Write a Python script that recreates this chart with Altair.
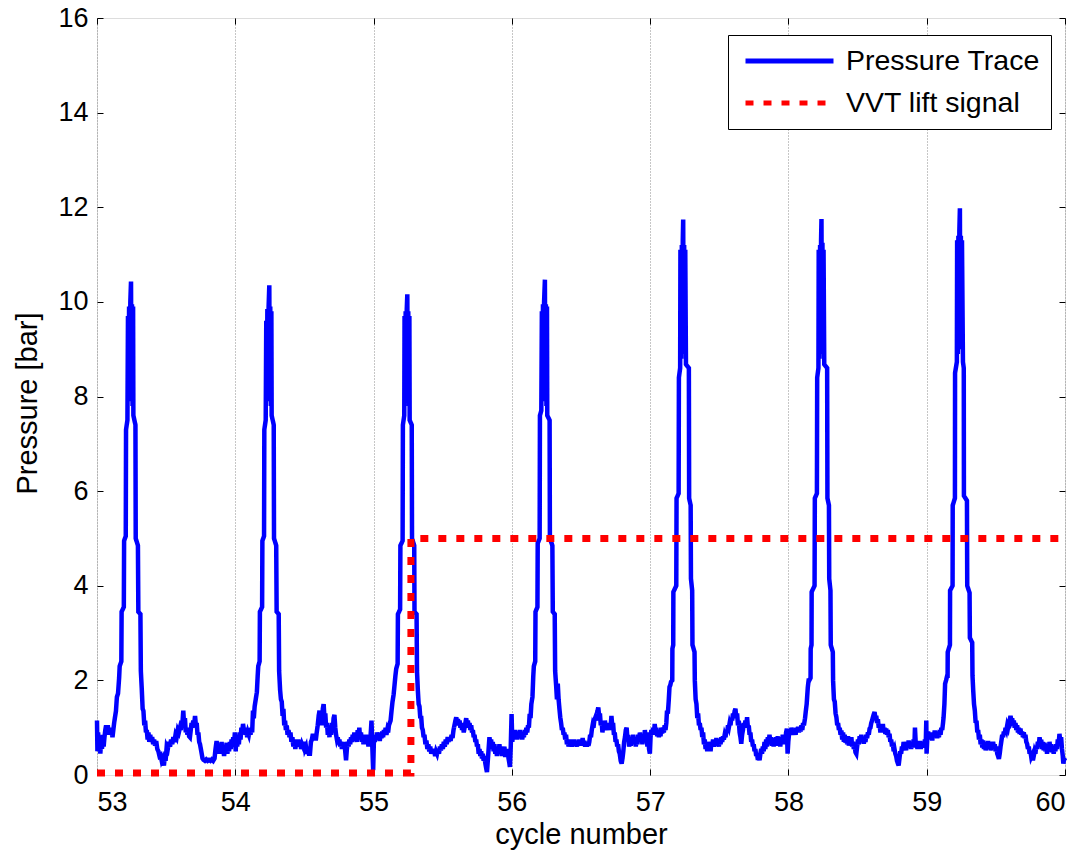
import altair as alt
import pandas as pd

# ---------------- data ----------------
x_ticks = [53, 54, 55, 56, 57, 58, 59, 60]
y_ticks = [0, 2, 4, 6, 8, 10, 12, 14, 16]
series_names = ["Pressure Trace", "VVT lift signal"]

cycle_53 = [
    (53.000, 1.15), (53.003, 0.50), (53.008, 0.90), (53.013, 0.55), (53.018, 0.80), (53.024, 0.45),
    (53.030, 0.75), (53.036, 0.55), (53.042, 0.85), (53.048, 0.60), (53.054, 0.80), (53.060, 0.95),
    (53.066, 1.05), (53.072, 0.90), (53.078, 1.05), (53.085, 0.85), (53.092, 1.00), (53.098, 0.85),
    (53.105, 0.95), (53.112, 0.80), (53.118, 0.95), (53.124, 1.10), (53.130, 1.22), (53.137, 1.35),
    (53.144, 1.65), (53.152, 1.72), (53.160, 2.05),
    (53.164, 2.30), (53.176, 2.40), (53.178, 3.45), (53.194, 3.55), (53.196, 4.95), (53.208, 5.05),
    (53.210, 7.30), (53.220, 7.50), (53.224, 9.70), (53.228, 7.90), (53.232, 9.90), (53.237, 8.00),
    (53.241, 10.00), (53.246, 10.43), (53.249, 8.10), (53.253, 9.95), (53.257, 7.80), (53.261, 9.90),
    (53.263, 7.60), (53.278, 7.40), (53.280, 5.00), (53.296, 4.85), (53.299, 3.45), (53.314, 3.40),
    (53.317, 2.20), (53.324, 1.80), (53.330, 1.40),
    (53.336, 1.35), (53.342, 1.05), (53.348, 1.15), (53.354, 0.90), (53.360, 0.95), (53.366, 0.75),
    (53.372, 0.90), (53.378, 0.70), (53.385, 0.85), (53.392, 0.70), (53.399, 0.80), (53.406, 0.65),
    (53.413, 0.75), (53.420, 0.62), (53.428, 0.72), (53.436, 0.55), (53.444, 0.50), (53.452, 0.40),
    (53.460, 0.42), (53.468, 0.30), (53.476, 0.35), (53.484, 0.20), (53.490, 0.40), (53.496, 0.30),
    (53.504, 0.60), (53.512, 0.55), (53.520, 0.70), (53.528, 0.60), (53.536, 0.75), (53.544, 0.65),
    (53.552, 0.80), (53.560, 0.70), (53.568, 0.85), (53.576, 0.80), (53.584, 0.95), (53.592, 0.90),
    (53.600, 1.00), (53.606, 0.95), (53.612, 1.15), (53.618, 1.10), (53.624, 1.36), (53.630, 1.05),
    (53.636, 1.20), (53.642, 0.90), (53.648, 1.00), (53.654, 0.85), (53.660, 1.00), (53.666, 0.82),
    (53.672, 0.80), (53.678, 0.95), (53.684, 1.10), (53.690, 1.00), (53.696, 1.15), (53.702, 1.05),
    (53.709, 1.25), (53.715, 1.05), (53.721, 1.10), (53.727, 0.85), (53.733, 0.90), (53.739, 0.70),
    (53.745, 0.65), (53.751, 0.55), (53.757, 0.45), (53.763, 0.35), (53.770, 0.32), (53.780, 0.30),
    (53.790, 0.33), (53.800, 0.30), (53.810, 0.32), (53.820, 0.30), (53.830, 0.33), (53.840, 0.30),
    (53.850, 0.35), (53.857, 0.55), (53.865, 0.72), (53.871, 0.55), (53.877, 0.65), (53.883, 0.45),
    (53.889, 0.62), (53.895, 0.50), (53.901, 0.70), (53.907, 0.45), (53.913, 0.55), (53.919, 0.40),
    (53.925, 0.60), (53.931, 0.50), (53.937, 0.68), (53.943, 0.45), (53.949, 0.62), (53.955, 0.50),
    (53.961, 0.70), (53.967, 0.55), (53.973, 0.75), (53.979, 0.60), (53.985, 0.80), (53.991, 0.65),
    (53.997, 0.90),
]

cycle_54 = [
    (54.003, 0.50), (54.008, 0.85), (54.014, 0.60), (54.020, 0.80), (54.026, 0.65), (54.032, 0.90),
    (54.038, 0.75), (54.044, 1.00), (54.050, 0.90), (54.056, 1.08), (54.062, 0.95), (54.068, 1.00),
    (54.074, 0.85), (54.080, 0.95), (54.086, 0.80), (54.092, 0.90), (54.098, 0.85), (54.104, 0.95),
    (54.110, 0.85), (54.116, 1.00), (54.122, 0.90), (54.128, 1.36), (54.134, 1.20), (54.140, 1.45),
    (54.148, 1.60), (54.156, 1.75), (54.162, 2.10),
    (54.166, 2.30), (54.176, 2.40), (54.178, 3.45), (54.194, 3.55), (54.196, 4.95), (54.208, 5.05),
    (54.210, 7.30), (54.220, 7.50), (54.224, 9.60), (54.228, 7.90), (54.232, 9.85), (54.237, 8.00),
    (54.241, 9.90), (54.246, 10.35), (54.249, 8.10), (54.253, 9.90), (54.257, 7.80), (54.261, 9.80),
    (54.263, 7.60), (54.278, 7.40), (54.280, 5.00), (54.296, 4.85), (54.299, 3.45), (54.314, 3.40),
    (54.317, 2.20), (54.324, 1.80), (54.330, 1.60),
    (54.336, 1.55), (54.342, 1.25), (54.348, 1.40), (54.354, 1.05), (54.360, 1.15), (54.366, 0.95),
    (54.372, 1.05), (54.378, 0.85), (54.385, 0.95), (54.392, 0.80), (54.399, 0.90), (54.406, 0.70),
    (54.413, 0.80), (54.420, 0.60), (54.427, 0.75), (54.434, 0.55), (54.441, 0.70), (54.448, 0.60),
    (54.455, 0.75), (54.462, 0.60), (54.469, 0.70), (54.476, 0.55), (54.483, 0.65), (54.490, 0.60),
    (54.497, 0.70), (54.504, 0.55), (54.511, 0.60), (54.518, 0.45), (54.525, 0.55), (54.532, 0.45),
    (54.540, 0.45), (54.547, 0.70), (54.554, 0.75), (54.561, 0.87), (54.568, 0.75), (54.575, 0.85),
    (54.582, 0.73), (54.589, 0.90), (54.596, 1.05), (54.603, 1.25), (54.609, 1.36), (54.615, 1.15),
    (54.621, 1.30), (54.627, 1.05), (54.633, 1.40), (54.639, 1.50), (54.645, 1.20), (54.651, 1.30),
    (54.657, 1.00), (54.663, 1.10), (54.669, 0.85), (54.675, 0.95), (54.681, 0.80), (54.687, 1.05),
    (54.693, 0.85), (54.699, 1.10), (54.705, 0.95), (54.711, 1.20), (54.717, 1.27), (54.723, 1.00),
    (54.729, 0.85), (54.735, 0.75), (54.741, 0.80), (54.747, 0.65), (54.753, 0.75), (54.759, 0.60),
    (54.765, 0.70), (54.771, 0.55), (54.777, 0.65), (54.783, 0.55), (54.789, 0.70), (54.795, 0.50),
    (54.801, 0.31), (54.807, 0.55), (54.813, 0.70), (54.819, 0.60), (54.825, 0.75), (54.831, 0.65),
    (54.837, 0.80), (54.843, 0.70), (54.849, 0.85), (54.855, 0.72), (54.861, 0.90), (54.867, 0.75),
    (54.873, 0.85), (54.879, 0.70), (54.885, 0.95), (54.891, 0.80), (54.897, 1.00), (54.903, 0.75),
    (54.909, 0.90), (54.915, 0.70), (54.921, 0.85), (54.927, 0.65), (54.933, 0.80), (54.939, 0.70),
    (54.945, 0.85), (54.951, 0.65), (54.957, 0.80), (54.963, 0.60), (54.969, 0.85), (54.975, 0.70),
    (54.981, 0.95), (54.985, 1.15), (54.991, 0.60), (54.997, 0.10),
]

cycle_55 = [
    (55.003, 0.80), (55.009, 0.70), (55.015, 0.85), (55.021, 0.75), (55.027, 0.90), (55.033, 0.78),
    (55.039, 0.85), (55.045, 0.72), (55.051, 0.88), (55.057, 0.78), (55.063, 0.92), (55.069, 0.80),
    (55.075, 0.95), (55.081, 0.85), (55.087, 1.00), (55.093, 0.85), (55.099, 0.95), (55.105, 0.90),
    (55.111, 1.05), (55.117, 1.10), (55.123, 1.15), (55.130, 1.36), (55.137, 1.55), (55.145, 1.70),
    (55.158, 2.10),
    (55.164, 2.25), (55.174, 2.35), (55.176, 3.40), (55.192, 3.50), (55.194, 4.85), (55.210, 4.95),
    (55.212, 7.40), (55.222, 7.60), (55.224, 9.70), (55.228, 7.90), (55.232, 9.80), (55.236, 8.00),
    (55.240, 9.85), (55.244, 10.16), (55.247, 8.10), (55.251, 9.80), (55.255, 7.80), (55.259, 9.70),
    (55.261, 7.50), (55.276, 7.40), (55.278, 5.00), (55.294, 4.85), (55.296, 3.45), (55.311, 3.40),
    (55.314, 2.20), (55.320, 1.80), (55.326, 1.50),
    (55.332, 1.45), (55.338, 1.20), (55.344, 1.25), (55.350, 1.00), (55.356, 0.95), (55.362, 0.80),
    (55.368, 0.85), (55.375, 0.65), (55.382, 0.73), (55.389, 0.55), (55.396, 0.65), (55.403, 0.50),
    (55.410, 0.60), (55.417, 0.45), (55.424, 0.55), (55.431, 0.45), (55.438, 0.55), (55.445, 0.40),
    (55.452, 0.50), (55.459, 0.45), (55.466, 0.55), (55.473, 0.45), (55.480, 0.60), (55.487, 0.52),
    (55.494, 0.65), (55.501, 0.55), (55.508, 0.70), (55.515, 0.60), (55.522, 0.75), (55.529, 0.65),
    (55.536, 0.80), (55.543, 0.70), (55.550, 0.80), (55.557, 0.72), (55.564, 0.85), (55.571, 0.78),
    (55.578, 0.95), (55.585, 1.05), (55.592, 1.15), (55.598, 1.22), (55.604, 1.10), (55.610, 1.18),
    (55.616, 1.05), (55.622, 1.15), (55.628, 1.00), (55.634, 1.10), (55.640, 0.95), (55.646, 1.08),
    (55.652, 0.90), (55.658, 1.00), (55.664, 1.10), (55.670, 1.20), (55.676, 1.05), (55.682, 1.15),
    (55.688, 1.00), (55.694, 1.10), (55.700, 0.95), (55.706, 1.05), (55.712, 0.90), (55.718, 0.95),
    (55.724, 0.80), (55.730, 0.85), (55.736, 0.70), (55.742, 0.75), (55.748, 0.60), (55.754, 0.65),
    (55.760, 0.45), (55.766, 0.55), (55.772, 0.40), (55.778, 0.50), (55.784, 0.35), (55.790, 0.45),
    (55.796, 0.30), (55.802, 0.40), (55.808, 0.25), (55.814, 0.15), (55.820, 0.06), (55.826, 0.30),
    (55.832, 0.55), (55.838, 0.80), (55.844, 0.65), (55.850, 0.75), (55.856, 0.55), (55.862, 0.70),
    (55.868, 0.50), (55.874, 0.65), (55.880, 0.45), (55.886, 0.60), (55.892, 0.40), (55.898, 0.55),
    (55.904, 0.45), (55.910, 0.65), (55.916, 0.50), (55.922, 0.60), (55.928, 0.40), (55.934, 0.55),
    (55.940, 0.45), (55.946, 0.60), (55.952, 0.38), (55.958, 0.50), (55.964, 0.40), (55.970, 0.55),
    (55.976, 0.35), (55.982, 0.25), (55.986, 0.17), (55.992, 0.60), (55.998, 1.29),
]

cycle_56 = [
    (56.003, 0.70), (56.009, 0.90), (56.015, 0.75), (56.021, 0.95), (56.027, 0.80), (56.033, 0.92),
    (56.039, 0.75), (56.045, 0.90), (56.051, 0.78), (56.057, 0.95), (56.063, 0.80), (56.069, 0.88),
    (56.075, 0.75), (56.081, 0.90), (56.087, 0.80), (56.093, 0.95), (56.099, 0.85), (56.105, 1.00),
    (56.111, 0.90), (56.117, 1.05), (56.123, 1.00), (56.129, 1.29), (56.135, 1.20), (56.141, 1.50),
    (56.149, 1.65), (56.155, 2.10),
    (56.159, 2.30), (56.169, 2.40), (56.171, 3.45), (56.185, 3.55), (56.187, 4.90), (56.201, 5.00),
    (56.203, 7.60), (56.213, 7.70), (56.217, 9.80), (56.221, 7.90), (56.225, 9.95), (56.229, 8.00),
    (56.233, 10.00), (56.239, 10.47), (56.242, 8.10), (56.246, 9.95), (56.250, 7.80), (56.254, 9.90),
    (56.256, 7.60), (56.273, 7.50), (56.275, 5.00), (56.293, 4.85), (56.296, 3.45), (56.310, 3.40),
    (56.313, 2.20), (56.320, 1.90), (56.326, 1.60),
    (56.332, 1.93), (56.338, 1.60), (56.344, 1.40), (56.350, 1.22), (56.356, 1.10), (56.362, 0.95),
    (56.368, 1.00), (56.374, 0.85), (56.380, 0.90), (56.386, 0.75), (56.392, 0.85), (56.398, 0.65),
    (56.404, 0.75), (56.410, 0.60), (56.416, 0.72), (56.422, 0.62), (56.428, 0.75), (56.434, 0.60),
    (56.440, 0.70), (56.446, 0.62), (56.452, 0.75), (56.458, 0.62), (56.464, 0.72), (56.470, 0.60),
    (56.476, 0.70), (56.482, 0.62), (56.488, 0.75), (56.494, 0.65), (56.500, 0.72), (56.506, 0.62),
    (56.512, 0.78), (56.518, 0.65), (56.524, 0.72), (56.530, 0.60), (56.536, 0.70), (56.542, 0.60),
    (56.548, 0.68), (56.554, 0.62), (56.560, 0.70), (56.566, 0.85), (56.572, 0.80), (56.578, 0.95),
    (56.584, 1.05), (56.590, 1.00), (56.596, 1.15), (56.602, 1.20), (56.608, 1.15), (56.614, 1.30),
    (56.620, 1.36), (56.625, 1.43), (56.631, 1.25), (56.637, 1.30), (56.643, 1.05), (56.649, 1.15),
    (56.655, 0.90), (56.661, 1.05), (56.667, 0.95), (56.673, 1.15), (56.679, 1.00), (56.685, 1.10),
    (56.691, 0.95), (56.697, 1.05), (56.703, 0.95), (56.709, 1.10), (56.715, 1.05), (56.720, 1.25),
    (56.726, 1.05), (56.732, 1.10), (56.738, 0.85), (56.744, 0.90), (56.750, 0.70), (56.756, 0.75),
    (56.762, 0.60), (56.768, 0.65), (56.774, 0.50), (56.780, 0.45), (56.787, 0.30), (56.794, 0.24),
    (56.800, 0.35), (56.806, 0.50), (56.812, 0.70), (56.818, 0.80), (56.824, 0.95), (56.830, 1.00),
    (56.836, 0.75), (56.842, 0.85), (56.848, 0.60), (56.854, 0.70), (56.860, 0.62), (56.866, 0.80),
    (56.872, 0.70), (56.878, 0.85), (56.884, 0.65), (56.890, 0.80), (56.896, 0.60), (56.902, 0.75),
    (56.908, 0.65), (56.914, 0.85), (56.920, 0.75), (56.926, 0.90), (56.932, 0.70), (56.938, 0.85),
    (56.944, 0.65), (56.950, 0.80), (56.956, 0.70), (56.962, 0.95), (56.968, 0.75), (56.974, 0.90),
    (56.980, 0.60), (56.986, 0.85), (56.992, 0.55), (56.998, 0.45),
]

cycle_57 = [
    (57.003, 0.80), (57.009, 0.95), (57.015, 0.85), (57.021, 1.00), (57.027, 0.85), (57.033, 1.08),
    (57.039, 0.90), (57.045, 1.00), (57.051, 0.82), (57.057, 0.95), (57.063, 0.80), (57.069, 0.92),
    (57.075, 0.82), (57.081, 1.00), (57.087, 0.88), (57.093, 1.00), (57.099, 0.90), (57.105, 1.05),
    (57.111, 0.95), (57.117, 1.10), (57.122, 1.36), (57.128, 1.30), (57.134, 1.55), (57.140, 1.86),
    (57.146, 1.90),
    (57.151, 1.97), (57.160, 2.00), (57.161, 2.67), (57.167, 2.75), (57.168, 3.87), (57.189, 4.00),
    (57.191, 5.85), (57.206, 5.95), (57.208, 8.40), (57.217, 8.60), (57.219, 11.10), (57.225, 8.80),
    (57.229, 11.20), (57.233, 9.00), (57.236, 11.30), (57.239, 11.74), (57.242, 9.20), (57.246, 11.20),
    (57.250, 8.90), (57.254, 11.10), (57.259, 8.68), (57.280, 8.60), (57.282, 5.85), (57.293, 5.70),
    (57.295, 4.15), (57.304, 3.90), (57.306, 2.75), (57.321, 2.60), (57.323, 2.00), (57.329, 1.60),
    (57.335, 1.50), (57.341, 1.20), (57.347, 1.30), (57.353, 1.05), (57.359, 1.10), (57.365, 0.95),
    (57.371, 1.00), (57.377, 0.80), (57.383, 0.90), (57.389, 0.65), (57.395, 0.75), (57.401, 0.55),
    (57.407, 0.65), (57.413, 0.50), (57.419, 0.70), (57.425, 0.55), (57.431, 0.65), (57.437, 0.50),
    (57.443, 0.70), (57.449, 0.62), (57.455, 0.75), (57.461, 0.60), (57.467, 0.72), (57.473, 0.62),
    (57.479, 0.78), (57.485, 0.65), (57.491, 0.72), (57.497, 0.60), (57.503, 0.75), (57.509, 0.65),
    (57.515, 0.80), (57.521, 0.70), (57.527, 0.82), (57.533, 0.75), (57.539, 0.85), (57.545, 0.80),
    (57.551, 0.95), (57.557, 0.90), (57.563, 1.05), (57.569, 1.00), (57.575, 1.10), (57.581, 1.05),
    (57.587, 1.20), (57.593, 1.15), (57.599, 1.30), (57.605, 1.22), (57.611, 1.35), (57.617, 1.40),
    (57.623, 1.20), (57.629, 1.30), (57.635, 1.05), (57.641, 1.15), (57.647, 0.90), (57.653, 0.80),
    (57.659, 0.66), (57.665, 0.85), (57.671, 0.95), (57.677, 1.10), (57.683, 1.00), (57.689, 1.15),
    (57.695, 1.05), (57.701, 1.22), (57.707, 1.00), (57.713, 1.05), (57.719, 0.85), (57.725, 0.90),
    (57.731, 0.70), (57.737, 0.75), (57.743, 0.60), (57.749, 0.65), (57.755, 0.50), (57.761, 0.55),
    (57.767, 0.40), (57.773, 0.45), (57.779, 0.32), (57.785, 0.40), (57.791, 0.31), (57.797, 0.45),
    (57.803, 0.55), (57.809, 0.45), (57.815, 0.60), (57.821, 0.50), (57.827, 0.70), (57.833, 0.55),
    (57.839, 0.75), (57.845, 0.60), (57.851, 0.80), (57.857, 0.65), (57.863, 0.85), (57.869, 0.70),
    (57.875, 0.80), (57.881, 0.62), (57.887, 0.78), (57.893, 0.60), (57.899, 0.75), (57.905, 0.62),
    (57.911, 0.80), (57.917, 0.65), (57.923, 0.82), (57.929, 0.62), (57.935, 0.75), (57.941, 0.60),
    (57.947, 0.80), (57.953, 0.65), (57.959, 0.85), (57.965, 0.70), (57.971, 0.80), (57.977, 0.65),
    (57.983, 0.90), (57.989, 0.98), (57.994, 0.45), (57.999, 0.70),
]

cycle_58 = [
    (58.004, 0.85), (58.010, 0.95), (58.016, 0.85), (58.022, 1.00), (58.028, 0.88), (58.034, 0.98),
    (58.040, 0.85), (58.046, 0.95), (58.052, 0.85), (58.058, 1.00), (58.064, 0.90), (58.070, 1.02),
    (58.076, 0.90), (58.082, 1.00), (58.088, 0.92), (58.094, 1.05), (58.100, 0.95), (58.106, 1.10),
    (58.112, 1.05), (58.120, 1.20), (58.126, 1.36), (58.132, 1.50), (58.140, 1.85), (58.146, 2.00),
    (58.151, 2.00), (58.160, 2.05), (58.161, 2.67), (58.167, 2.75), (58.168, 3.87), (58.189, 4.00),
    (58.191, 5.85), (58.206, 5.95), (58.208, 8.40), (58.217, 8.60), (58.219, 11.10), (58.225, 8.80),
    (58.229, 11.20), (58.233, 9.00), (58.236, 11.30), (58.239, 11.75), (58.242, 9.20), (58.246, 11.25),
    (58.250, 8.90), (58.254, 11.10), (58.259, 8.68), (58.280, 8.60), (58.282, 5.85), (58.293, 5.70),
    (58.295, 4.15), (58.304, 3.90), (58.306, 2.75), (58.321, 2.60), (58.323, 2.00), (58.329, 1.60),
    (58.335, 1.55), (58.341, 1.30), (58.347, 1.22), (58.353, 1.05), (58.359, 1.10), (58.365, 0.95),
    (58.371, 1.00), (58.377, 0.85), (58.383, 0.94), (58.389, 0.75), (58.395, 0.90), (58.401, 0.70),
    (58.407, 0.85), (58.413, 0.68), (58.419, 0.80), (58.425, 0.65), (58.431, 0.82), (58.437, 0.62),
    (58.443, 0.78), (58.449, 0.66), (58.455, 0.80), (58.461, 0.60), (58.467, 0.70), (58.473, 0.55),
    (58.479, 0.62), (58.485, 0.48), (58.491, 0.45), (58.497, 0.60), (58.503, 0.75), (58.509, 0.65),
    (58.515, 0.82), (58.521, 0.70), (58.527, 0.85), (58.533, 0.70), (58.539, 0.80), (58.545, 0.66),
    (58.551, 0.78), (58.557, 0.70), (58.563, 0.85), (58.569, 0.78), (58.575, 0.90), (58.581, 0.85),
    (58.587, 0.98), (58.593, 1.00), (58.599, 1.10), (58.605, 1.15), (58.611, 1.22), (58.617, 1.28),
    (58.623, 1.33), (58.629, 1.20), (58.635, 1.25), (58.641, 1.10), (58.647, 1.18), (58.653, 1.00),
    (58.659, 1.08), (58.665, 0.90), (58.671, 1.05), (58.677, 0.92), (58.683, 1.08), (58.689, 0.90),
    (58.695, 1.00), (58.701, 0.87), (58.707, 0.98), (58.713, 0.85), (58.719, 0.95), (58.725, 0.80),
    (58.731, 0.87), (58.737, 0.70), (58.743, 0.75), (58.749, 0.60), (58.755, 0.68), (58.761, 0.50),
    (58.767, 0.55), (58.773, 0.45), (58.779, 0.40), (58.785, 0.30), (58.791, 0.25), (58.797, 0.20),
    (58.803, 0.35), (58.809, 0.50), (58.815, 0.45), (58.821, 0.60), (58.827, 0.52), (58.833, 0.70),
    (58.839, 0.55), (58.845, 0.65), (58.851, 0.52), (58.857, 0.70), (58.863, 0.58), (58.869, 0.73),
    (58.875, 0.60), (58.881, 0.70), (58.887, 0.55), (58.893, 0.68), (58.899, 0.58), (58.905, 0.75),
    (58.911, 0.62), (58.915, 1.00), (58.921, 0.65), (58.927, 0.72), (58.933, 0.55), (58.939, 0.70),
    (58.945, 0.60), (58.951, 0.72), (58.957, 0.55), (58.963, 0.68), (58.969, 0.58), (58.975, 0.70),
    (58.981, 0.60), (58.987, 0.75), (58.993, 0.65), (58.997, 1.15), (58.999, 0.45),
]

cycle_59 = [
    (59.004, 0.75), (59.010, 0.92), (59.016, 0.78), (59.022, 0.90), (59.028, 0.75), (59.034, 0.88),
    (59.040, 0.73), (59.046, 0.90), (59.052, 0.80), (59.058, 0.94), (59.064, 0.82), (59.070, 0.90),
    (59.076, 0.78), (59.082, 0.92), (59.088, 0.80), (59.094, 0.95), (59.100, 0.85), (59.106, 1.00),
    (59.112, 0.95), (59.118, 1.10), (59.122, 1.22), (59.128, 1.50), (59.133, 1.93), (59.140, 2.00),
    (59.148, 2.10),
    (59.151, 2.10), (59.152, 2.60), (59.168, 2.75), (59.169, 3.90), (59.187, 4.00), (59.188, 5.70),
    (59.204, 5.85), (59.205, 8.50), (59.218, 8.73), (59.220, 11.30), (59.225, 8.90), (59.229, 11.40),
    (59.233, 9.10), (59.236, 11.50), (59.240, 11.98), (59.243, 9.30), (59.247, 11.40), (59.251, 9.00),
    (59.255, 11.30), (59.262, 8.73), (59.268, 8.60), (59.269, 5.90), (59.291, 5.80), (59.293, 4.00),
    (59.310, 3.85), (59.312, 2.90), (59.329, 2.80), (59.331, 2.10), (59.336, 1.80),
    (59.342, 1.50), (59.348, 1.36), (59.354, 1.10), (59.360, 1.15), (59.366, 0.90), (59.372, 0.95),
    (59.378, 0.75), (59.384, 0.85), (59.390, 0.65), (59.396, 0.75), (59.402, 0.58), (59.408, 0.73),
    (59.414, 0.55), (59.420, 0.70), (59.426, 0.52), (59.432, 0.68), (59.438, 0.55), (59.444, 0.72),
    (59.450, 0.58), (59.456, 0.70), (59.462, 0.52), (59.468, 0.66), (59.474, 0.55), (59.480, 0.70),
    (59.486, 0.58), (59.492, 0.65), (59.498, 0.50), (59.504, 0.60), (59.510, 0.45), (59.516, 0.40),
    (59.522, 0.34), (59.528, 0.45), (59.534, 0.60), (59.540, 0.72), (59.546, 0.85), (59.552, 0.80),
    (59.558, 0.92), (59.564, 0.85), (59.570, 1.00), (59.576, 0.95), (59.582, 1.05), (59.588, 1.00),
    (59.594, 1.10), (59.600, 1.15), (59.606, 1.25), (59.612, 1.15), (59.618, 1.20), (59.624, 1.05),
    (59.630, 1.15), (59.636, 1.00), (59.642, 1.10), (59.648, 0.95), (59.654, 1.05), (59.660, 0.90),
    (59.666, 1.00), (59.672, 0.87), (59.678, 0.98), (59.684, 0.85), (59.690, 0.92), (59.696, 0.80),
    (59.702, 0.90), (59.708, 0.78), (59.714, 0.85), (59.720, 0.70), (59.726, 0.66), (59.732, 0.55),
    (59.738, 0.60), (59.744, 0.45), (59.750, 0.50), (59.756, 0.38), (59.762, 0.42), (59.768, 0.31),
    (59.774, 0.40), (59.780, 0.50), (59.786, 0.45), (59.792, 0.62), (59.798, 0.55), (59.804, 0.70),
    (59.810, 0.60), (59.816, 0.80), (59.822, 0.65), (59.828, 0.75), (59.834, 0.55), (59.840, 0.70),
    (59.846, 0.52), (59.852, 0.68), (59.858, 0.50), (59.864, 0.65), (59.870, 0.45), (59.876, 0.62),
    (59.882, 0.50), (59.888, 0.70), (59.894, 0.55), (59.900, 0.65), (59.906, 0.48), (59.912, 0.62),
    (59.918, 0.45), (59.924, 0.58), (59.930, 0.50), (59.936, 0.65), (59.942, 0.55), (59.948, 0.75),
    (59.954, 0.65), (59.960, 0.87), (59.966, 0.70), (59.972, 0.80), (59.978, 0.55), (59.984, 0.40),
    (59.988, 0.24), (59.994, 0.35), (60.000, 0.30),
]

vvt_x = [53.0, 55.27, 55.27, 60.0]
vvt_y = [0.04, 0.04, 5.0, 5.0]

# ---------------- tables ----------------
pressure_points = cycle_53 + cycle_54 + cycle_55 + cycle_56 + cycle_57 + cycle_58 + cycle_59
pressure_df = pd.DataFrame({
    "cycle": [p[0] for p in pressure_points],
    "value": [p[1] for p in pressure_points],
    "i": list(range(len(pressure_points))),
    "series": series_names[0],
})
vvt_df = pd.DataFrame({
    "cycle": vvt_x,
    "value": vvt_y,
    "i": list(range(len(vvt_x))),
    "series": series_names[1],
})

FONT = "Liberation Sans"

x_scale = alt.Scale(domain=[53, 60], nice=False, zero=False)
y_scale = alt.Scale(domain=[0, 16], nice=False, zero=False)

color_enc = alt.Color(
    "series:N",
    scale=alt.Scale(domain=series_names, range=["#0000ff", "#ff0000"]),
    legend=alt.Legend(
        title=None,
        orient="none",
        legendX=631,
        legendY=17,
        fillColor="white",
        strokeColor="black",
        padding=11,
        symbolType="stroke",
        symbolSize=7744,
        symbolStrokeWidth=5,
        symbolOffset=4,
        clipHeight=30,
        labelFontSize=28.5,
        labelFont=FONT,
        labelColor="black",
        labelLimit=400,
        labelOffset=10,
        rowPadding=12,
    ),
)
dash_enc = alt.StrokeDash(
    "series:N",
    scale=alt.Scale(domain=series_names, range=[[1, 0], [8, 10]]),
    legend=None,
)

pressure = alt.Chart(pressure_df).mark_line(strokeWidth=4.5).encode(
    x=alt.X(
        "cycle:Q",
        scale=x_scale,
        axis=alt.Axis(
            orient="bottom", values=x_ticks, format="d", offset=-6, tickSize=6,
            tickColor="black", domain=False, grid=True, gridColor="#8c8c8c",
            gridDash=[1, 2], gridWidth=1, labelFontSize=27, labelFont=FONT,
            labelColor="black", labelPadding=14, title="cycle number",
            titleFontSize=29, titleFont=FONT, titleFontWeight="normal",
            titleColor="black", titlePadding=5,
        ),
    ),
    y=alt.Y(
        "value:Q",
        scale=y_scale,
        axis=alt.Axis(
            orient="left", values=y_ticks, format="d", offset=-6, tickSize=6,
            tickColor="black", domain=False, grid=False, labelFontSize=27,
            labelFont=FONT, labelColor="black", labelPadding=9,
            title="Pressure [bar]", titleFontSize=29, titleFont=FONT,
            titleFontWeight="normal", titleColor="black", titlePadding=15,
            titleY=385,
        ),
    ),
    color=color_enc,
    strokeDash=dash_enc,
    order=alt.Order("i:Q"),
)

vvt = alt.Chart(vvt_df).mark_line(strokeWidth=7, strokeCap="butt").encode(
    x=alt.X(
        "cycle:Q",
        scale=x_scale,
        axis=alt.Axis(
            orient="top", values=x_ticks, offset=-6, tickSize=6, tickColor="black",
            domain=False, grid=False, labels=False, title=None,
        ),
    ),
    y=alt.Y(
        "value:Q",
        scale=y_scale,
        axis=alt.Axis(
            orient="right", values=y_ticks, offset=-6, tickSize=6, tickColor="black",
            domain=False, grid=False, labels=False, title=None,
        ),
    ),
    color=color_enc,
    strokeDash=dash_enc,
    order=alt.Order("i:Q"),
)

chart = (
    alt.layer(pressure, vvt)
    .resolve_axis(x="independent", y="independent")
    .properties(
        width=968,
        height=757,
        autosize=alt.AutoSizeParams(type="none"),
        padding={"left": 89, "top": 10, "right": 15, "bottom": 80},
    )
    .configure_view(stroke="black", strokeWidth=1)
    .configure(background="white")
)

chart.save("out.html", embed_options={"renderer": "svg", "actions": False})
